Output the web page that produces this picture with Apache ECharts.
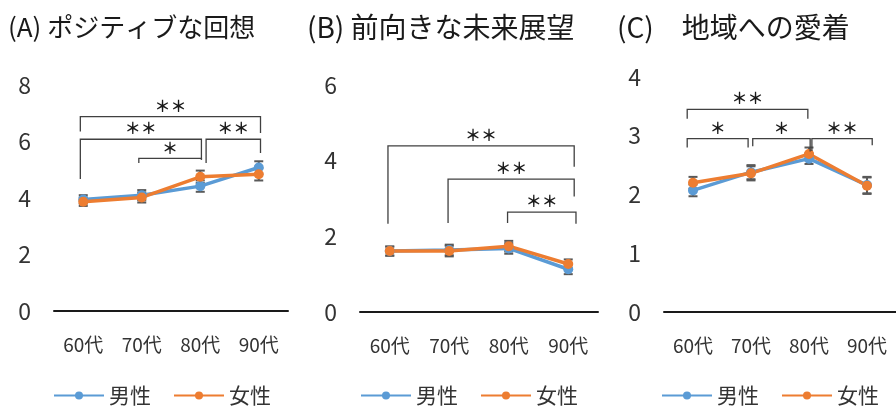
<!DOCTYPE html>
<html>
<head>
<meta charset="utf-8">
<script src="https://cdn.jsdelivr.net/npm/echarts@6/dist/echarts.min.js"></script>
<style>html,body{margin:0;padding:0;background:#fff;}#c{width:896px;height:407px;}</style>
</head>
<body>
<div id="c"></div>
<script>
// ---- data ----
const categories = ['60代', '70代', '80代', '90代'];
const seriesNames = ['男性', '女性'];
const titles = ['(A) ポジティブな回想', '(B) 前向きな未来展望', '(C)　地域への愛着'];

const aTicks = [0, 2, 4, 6, 8];
const aMale = [3.95, 4.10, 4.42, 5.08];
const aFemale = [3.87, 4.02, 4.75, 4.84];
const aMaleErr = [0.15, 0.18, 0.20, 0.22];
const aFemaleErr = [0.15, 0.18, 0.22, 0.22];
// [fromIndex, toIndex, top, leftLegEnd, rightLegEnd, label]
const aBrackets = [
  [-0.05, 3.03, 6.88, 6.35, 6.30, '＊＊'],
  [-0.05, 2.02, 6.08, 4.67, 5.35, '＊＊'],
  [0.95, 2.02, 5.40, 5.24, 5.35, '＊'],
  [2.10, 3.03, 6.08, 5.24, 5.59, '＊＊']
];

const bTicks = [0, 2, 4, 6];
const bMale = [1.61, 1.64, 1.68, 1.13];
const bFemale = [1.61, 1.61, 1.74, 1.27];
const bMaleErr = [0.12, 0.14, 0.14, 0.13];
const bFemaleErr = [0.12, 0.14, 0.14, 0.12];
const bBrackets = [
  [-0.03, 3.10, 4.39, 2.33, 3.84, '＊＊'],
  [0.98, 3.10, 3.51, 2.35, 3.05, '＊＊'],
  [1.98, 3.13, 2.64, 2.35, 2.33, '＊＊']
];

const cTicks = [0, 1, 2, 3, 4];
const cMale = [2.07, 2.38, 2.61, 2.16];
const cFemale = [2.20, 2.36, 2.69, 2.15];
const cMaleErr = [0.10, 0.12, 0.09, 0.14];
const cFemaleErr = [0.10, 0.12, 0.11, 0.14];
const cBrackets = [
  [-0.10, 1.98, 3.45, 3.29, 3.29, '＊＊'],
  [-0.10, 0.95, 2.95, 2.80, 2.80, '＊'],
  [1.03, 2.02, 2.95, 2.82, 2.73, '＊'],
  [2.05, 3.09, 2.95, 2.74, 2.84, '＊＊']
];

// ---- styles / layout ----
const FONT = 'Noto Sans CJK JP';
const BLUE = '#5B9BD5', ORANGE = '#ED7D31';
const panels = [
  {ticks: aTicks, male: aMale, female: aFemale, me: aMaleErr, fe: aFemaleErr, br: aBrackets,
   grid: {left: 54, top: 85, width: 234, height: 226}, titleLeft: 8, titleSize: 26, legendLeft: 53},
  {ticks: bTicks, male: bMale, female: bFemale, me: bMaleErr, fe: bFemaleErr, br: bBrackets,
   grid: {left: 360, top: 85, width: 238, height: 227}, titleLeft: 307, titleSize: 28, legendLeft: 360},
  {ticks: cTicks, male: cMale, female: cFemale, me: cMaleErr, fe: cFemaleErr, br: cBrackets,
   grid: {left: 664, top: 77, width: 232, height: 235}, titleLeft: 617, titleSize: 28, legendLeft: 661}
];

const option = {
  animation: false,
  backgroundColor: '#fff',
  textStyle: {fontFamily: FONT},
  title: [], grid: [], xAxis: [], yAxis: [], legend: [], series: []
};

function errRender(color) {
  return function (params, api) {
    const i = api.value(0);
    const lo = api.coord([i, api.value(1)]);
    const hi = api.coord([i, api.value(2)]);
    const cap = 4.5;
    const st = {stroke: '#595959', lineWidth: 2};
    return {type: 'group', children: [
      {type: 'line', shape: {x1: lo[0], y1: lo[1], x2: hi[0], y2: hi[1]}, style: st},
      {type: 'line', shape: {x1: lo[0] - cap, y1: lo[1], x2: lo[0] + cap, y2: lo[1]}, style: st},
      {type: 'line', shape: {x1: hi[0] - cap, y1: hi[1], x2: hi[0] + cap, y2: hi[1]}, style: st}
    ]};
  };
}

function bracketRender(list) {
  return function (params, api) {
    const b = list[params.dataIndex];
    const p0 = api.coord([0, 0]);
    const band = api.size([1, 0])[0];
    const xs = i => p0[0] + i * band;
    const ys = v => api.coord([0, v])[1];
    const x1 = xs(b[0]), x2 = xs(b[1]);
    const yt = ys(b[2]);
    return {type: 'group', children: [
      {type: 'polyline', shape: {points: [[x1, ys(b[3])], [x1, yt], [x2, yt], [x2, ys(b[4])]]},
       style: {stroke: '#404040', lineWidth: 1.3, fill: null}},
      {type: 'text', x: (x1 + x2) / 2, y: yt - 11,
       style: {text: b[5], fill: '#1a1a1a', font: 'bold 16px "' + FONT + '"', align: 'center', verticalAlign: 'middle'}}
    ]};
  };
}

panels.forEach((p, k) => {
  option.title.push({text: titles[k], left: p.titleLeft, top: 13, padding: 0,
    textStyle: {fontFamily: FONT, fontSize: p.titleSize, fontWeight: 'normal', color: '#1a1a1a', lineHeight: 28}});
  option.grid.push(Object.assign({outerBoundsMode: 'none', containLabel: false}, p.grid));
  option.xAxis.push({type: 'category', gridIndex: k, data: categories, boundaryGap: true,
    axisLine: {lineStyle: {color: '#1a1a1a', width: 2}}, axisTick: {show: false},
    axisLabel: {fontSize: 19, color: '#333', margin: 24, fontFamily: FONT, interval: 0}});
  const t = p.ticks;
  option.yAxis.push({type: 'value', gridIndex: k, min: t[0], max: t[t.length - 1], interval: t[1] - t[0],
    splitLine: {show: false}, axisLine: {show: false}, axisTick: {show: false},
    axisLabel: {fontSize: 23, color: '#333', margin: 23, fontFamily: FONT}});
  option.legend.push({data: seriesNames, left: p.legendLeft, top: 385, itemWidth: 50, itemHeight: 10, itemGap: 22,
    padding: 0, textStyle: {fontSize: 21, color: '#333', fontFamily: FONT}});

  const groups = [[p.male, p.me, BLUE], [p.female, p.fe, ORANGE]];
  groups.forEach((g, s) => {
    option.series.push({type: 'custom', xAxisIndex: k, yAxisIndex: k, z: 1, silent: true,
      renderItem: errRender(g[2]),
      encode: {x: 0, y: [1, 2]},
      data: g[0].map((v, i) => [i, v - g[1][i], v + g[1][i]])});
  });
  groups.forEach((g, s) => {
    option.series.push({type: 'line', name: seriesNames[s], xAxisIndex: k, yAxisIndex: k, z: 3,
      data: g[0], symbol: 'circle', symbolSize: 10,
      lineStyle: {color: g[2], width: 3.5}, itemStyle: {color: g[2]}});
  });
  option.series.push({type: 'custom', xAxisIndex: k, yAxisIndex: k, z: 4, silent: true,
    renderItem: bracketRender(p.br),
    data: p.br.map(b => [0, b[2]])});
});

const chart = echarts.init(document.getElementById('c'), null, {renderer: 'canvas'});
chart.setOption(option);
</script>
</body>
</html>
